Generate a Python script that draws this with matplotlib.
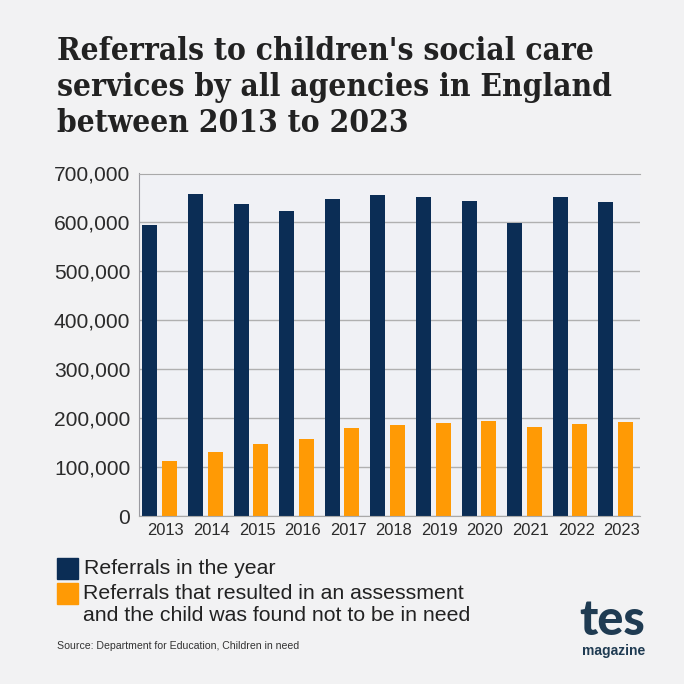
import numpy as np
import matplotlib.pyplot as plt
from matplotlib.patches import Rectangle
from matplotlib.ticker import FuncFormatter

years = ['2013', '2014', '2015', '2016', '2017', '2018', '2019', '2020', '2021', '2022', '2023']
referrals = [595000, 658000, 637000, 623000, 648000, 656000, 652000, 644000, 599000, 652000, 642000]
not_in_need = [113000, 130000, 147000, 158000, 180000, 187000, 190000, 195000, 182000, 188000, 192000]
legend_labels = ['Referrals in the year',
                 'Referrals that resulted in an assessment\nand the child was found not to be in need']
title = "Referrals to children's social care\nservices by all agencies in England\nbetween 2013 to 2023"
source = 'Source: Department for Education, Children in need'

navy = '#0b2d55'
orange = '#ff9a05'
bg = '#f2f2f3'
W = H = 684


def fx(px):
    return px / W


def fy(py):
    return 1 - py / H


plt.rcParams['font.family'] = ['Liberation Sans', 'DejaVu Sans']

fig = plt.figure(figsize=(6.84, 6.84), dpi=100, facecolor=bg)
ax = fig.add_axes([fx(138.5), fy(516), fx(640 - 138.5), (516 - 173.5) / H])
ax.set_facecolor('#f0f1f5')

x = np.arange(len(years))
ax.bar(x - 0.25, referrals, width=0.33, color=navy)
ax.bar(x + 0.18, not_in_need, width=0.33, color=orange)

ax.set_xlim(-0.50, 10.50)
ax.set_ylim(0, 700000)
ax.set_yticks(range(0, 700001, 100000))
ax.yaxis.set_major_formatter(FuncFormatter(lambda v, pos: f'{int(v):,}'))
ax.set_xticks(x + 0.10)
ax.set_xticklabels(years)
ax.tick_params(axis='x', length=0, labelsize=11.9, labelcolor='#2b2b2b', pad=5)
ax.tick_params(axis='y', length=0, labelsize=15.1, labelcolor='#2b2b2b', pad=6)
ax.grid(axis='y', color='#b0b0b0', linewidth=1.0)
ax.set_axisbelow(True)
ax.spines['right'].set_visible(False)
ax.spines['top'].set_color('#a9a9a9')
ax.spines['left'].set_color('#9a9aa0')
ax.spines['bottom'].set_color('#a9a9a9')

fig.text(fx(57), fy(36), title, family='DejaVu Serif', stretch='condensed', weight='bold',
         fontsize=22.7, color='#222222', va='top', linespacing=1.2)

fig.add_artist(Rectangle((fx(57), fy(579)), 21 / W, 21 / H, color=navy, transform=fig.transFigure))
fig.add_artist(Rectangle((fx(57), fy(604)), 21 / W, 21 / H, color=orange, transform=fig.transFigure))
fig.text(fx(84), fy(569), legend_labels[0], fontsize=15.3, color='#222222', va='center')
fig.text(fx(83), fy(604.5), legend_labels[1], fontsize=15.3, color='#222222', va='center', linespacing=1.15)
fig.text(fx(57), fy(646), source, fontsize=7.55, color='#333333', va='center')

fig.text(fx(612), fy(635), 'tes', fontsize=35, weight='black', family='Lato', color='#1f3b52', ha='center', va='baseline')
fig.text(fx(614), fy(651), 'magazine', fontsize=10, weight='bold', color='#1f3b52', ha='center', va='center')

fig.savefig('out.png', dpi=100, facecolor=bg)
plt.close()
